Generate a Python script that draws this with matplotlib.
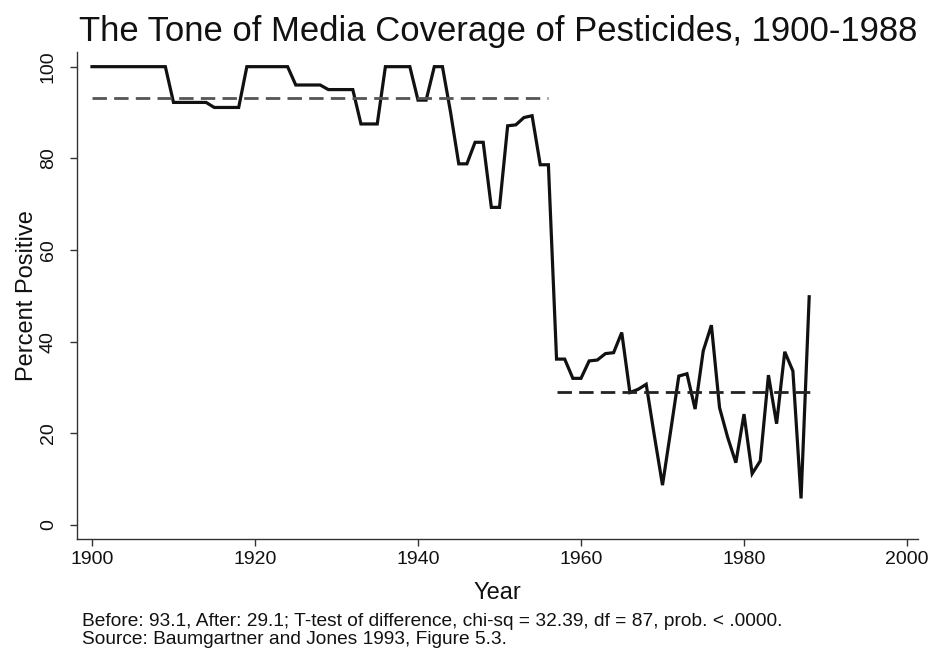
import matplotlib
matplotlib.use("Agg")
import matplotlib.pyplot as plt

plt.rcParams['font.family'] = ['Liberation Sans', 'DejaVu Sans']

years = list(range(1900, 1989))
percent_positive = [
    100, 100, 100, 100, 100, 100, 100, 100, 100, 100,          # 1900-1909
    92.2, 92.2, 92.2, 92.2, 92.2, 91.1, 91.1, 91.1, 91.1, 100,  # 1910-1919
    100, 100, 100, 100, 100, 96.0, 96.0, 96.0, 96.0, 95.0,      # 1920-1929
    95.0, 95.0, 95.0, 87.5, 87.5, 87.5, 100, 100, 100, 100,     # 1930-1939
    92.7, 92.7, 100, 100, 90.0, 78.8, 78.8, 83.5, 83.5, 69.3,   # 1940-1949
    69.3, 87.1, 87.3, 88.9, 89.3, 78.6, 78.6, 36.2, 36.2, 32.0, # 1950-1959
    32.0, 35.8, 36.0, 37.4, 37.6, 42.0, 28.9, 29.6, 30.7, 19.5, # 1960-1969
    8.7, 20.5, 32.5, 33.0, 25.3, 38.0, 43.6, 25.6, 19.1, 13.6,  # 1970-1979
    24.2, 11.2, 14.0, 32.7, 22.1, 37.8, 33.6, 5.8, 49.8,        # 1980-1988
]

before_span = [1900, 1956]
before_mean = 93.1
after_span = [1957, 1989]
after_mean = 29.1

x_ticks = [1900, 1920, 1940, 1960, 1980, 2000]
y_ticks = [0, 20, 40, 60, 80, 100]

title = "The Tone of Media Coverage of Pesticides, 1900-1988"
note_lines = [
    "Before: 93.1, After: 29.1; T-test of difference, chi-sq = 32.39, df = 87, prob. < .0000.",
    "Source: Baumgartner and Jones 1993, Figure 5.3.",
]

fig = plt.figure(figsize=(9.33, 6.54), dpi=100)
ax = fig.add_axes([77 / 933, 115 / 654, 841 / 933, 487 / 654])

ax.plot(years, percent_positive, color='#111111', linewidth=2.3,
        solid_joinstyle='miter')
ax.plot(before_span, [before_mean, before_mean], color='#555555',
        linewidth=2.0, dashes=(5.2, 2.6))
ax.plot(after_span, [after_mean, after_mean], color='#222222',
        linewidth=2.0, dashes=(5.2, 2.6))

ax.set_xlim(1898.16, 2001.35)
ax.set_ylim(-3.05, 103.2)
ax.set_xticks(x_ticks)
ax.set_yticks(y_ticks)
ax.set_yticklabels([str(v) for v in y_ticks], rotation=90, va='center')

for side in ('top', 'right'):
    ax.spines[side].set_visible(False)
for side in ('left', 'bottom'):
    ax.spines[side].set_color('#333333')
    ax.spines[side].set_linewidth(1.0)

ax.tick_params(direction='out', length=5, width=1.0, color='#333333',
               labelsize=14, labelcolor='#111111')
ax.tick_params(axis='x', pad=4)
ax.tick_params(axis='y', pad=9.5)

ax.set_xlabel("Year", fontsize=17, color='#111111', labelpad=10)
ax.set_ylabel("Percent Positive", fontsize=17, color='#111111', labelpad=1)

fig.text(498 / 933, 1 - 32 / 654, title, fontsize=24.9,
         ha='center', va='center', color='#111111')

fig.text(82 / 933, 1 - 622 / 654, note_lines[0], fontsize=13.8,
         ha='left', va='center', color='#111111')
fig.text(82 / 933, 1 - 640 / 654, note_lines[1], fontsize=13.8,
         ha='left', va='center', color='#111111')

fig.savefig("out.png", dpi=100, facecolor='white')
